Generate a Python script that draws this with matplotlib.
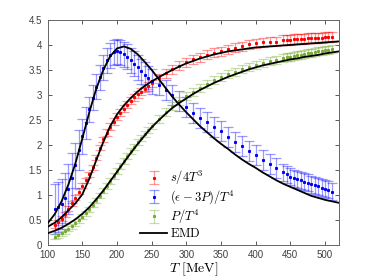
import matplotlib
matplotlib.use("Agg")
import matplotlib.pyplot as plt
from matplotlib.colors import to_rgba

# lattice temperatures [MeV]
T_lat = ([110, 115, 120, 125, 130, 135, 140, 145, 150, 155, 160, 165, 170, 175, 180,
          185, 190, 195, 200, 205, 210, 215, 220, 225, 230, 235, 240, 245, 250]
         + [260, 270, 280, 290, 300, 310, 320, 330, 340, 350, 360, 370, 380, 390,
            400, 410, 420, 430]
         + [440, 445, 450, 455, 460, 465, 470, 475, 480, 485, 490, 495, 500, 505, 510])

s_lat = [0.40, 0.46, 0.53, 0.62, 0.73, 0.84, 0.95, 1.07, 1.19, 1.30, 1.42, 1.56, 1.75, 1.95, 2.12,
         2.25, 2.37, 2.47, 2.57, 2.65, 2.73, 2.81, 2.89, 2.96, 3.02, 3.07, 3.13, 3.19, 3.24,
         3.34, 3.44, 3.52, 3.59, 3.66, 3.72, 3.76, 3.81, 3.85, 3.88, 3.92, 3.95, 3.98, 4.02,
         4.04, 4.06, 4.07, 4.07,
         4.10, 4.11, 4.11, 4.12, 4.12, 4.13, 4.13, 4.14, 4.14, 4.15, 4.15, 4.15, 4.16, 4.16, 4.16]
s_err = ([0.05] * 15 + [0.07] * 14 + [0.09] * 18 + [0.1] * 15)

I_lat = [0.73, 0.77, 0.83, 0.95, 1.12, 1.35, 1.60, 1.90, 2.18, 2.45, 2.72, 2.95, 3.17, 3.36, 3.55,
         3.70, 3.80, 3.86, 3.88, 3.86, 3.82, 3.77, 3.70, 3.63, 3.56, 3.48, 3.41, 3.34, 3.28,
         3.20, 3.11, 3.00, 2.88, 2.76, 2.65, 2.55, 2.46, 2.37, 2.29, 2.17, 2.07, 1.98, 1.88,
         1.80, 1.71, 1.63, 1.54,
         1.46, 1.42, 1.37, 1.34, 1.32, 1.30, 1.27, 1.25, 1.22, 1.20, 1.18, 1.15, 1.13, 1.11, 1.07]
I_err = ([0.5] * 6 + [0.45, 0.4, 0.35, 0.32] + [0.25] * 19 + [0.2] * 18 + [0.17] * 15)

p_lat = [0.17, 0.20, 0.24, 0.28, 0.33, 0.38, 0.44, 0.50, 0.57, 0.64, 0.72, 0.81, 0.90, 0.99, 1.09,
         1.19, 1.29, 1.39, 1.49, 1.59, 1.69, 1.79, 1.88, 1.97, 2.06, 2.15, 2.23, 2.31, 2.39,
         2.53, 2.66, 2.78, 2.88, 2.98, 3.07, 3.15, 3.23, 3.30, 3.36, 3.42, 3.47, 3.52, 3.57,
         3.61, 3.65, 3.68, 3.71,
         3.74, 3.76, 3.77, 3.79, 3.80, 3.81, 3.83, 3.84, 3.85, 3.87, 3.88, 3.89, 3.90, 3.91, 3.92]
p_err = ([0.05] * 15 + [0.06] * 14 + [0.08] * 33)

# EMD model curves
T_emd = [100, 110, 120, 130, 140, 150, 160, 170, 180, 190, 200, 210, 220, 230, 240, 250,
         260, 270, 280, 290, 300, 310, 320, 330, 340, 350, 360, 370, 380, 390, 400, 410,
         420, 430, 440, 450, 460, 470, 480, 490, 500, 510, 520]
s_emd = [0.37, 0.45, 0.56, 0.70, 0.84, 1.02, 1.33, 1.70, 2.06, 2.38, 2.62, 2.80, 2.95, 3.08,
         3.19, 3.28, 3.36, 3.44, 3.51, 3.58, 3.64, 3.69, 3.74, 3.78, 3.82, 3.85, 3.88, 3.90,
         3.92, 3.94, 3.96, 3.97, 3.98, 3.99, 4.00, 4.01, 4.02, 4.03, 4.04, 4.05, 4.06, 4.07, 4.08]
I_emd = [0.44, 0.62, 0.88, 1.22, 1.64, 2.14, 2.66, 3.13, 3.50, 3.78, 3.94, 3.98, 3.93, 3.82,
         3.67, 3.51, 3.33, 3.15, 2.97, 2.81, 2.66, 2.52, 2.38, 2.26, 2.14, 2.03, 1.93, 1.82,
         1.72, 1.63, 1.55, 1.46, 1.38, 1.30, 1.23, 1.17, 1.11, 1.05, 0.99, 0.95, 0.91, 0.88, 0.85]
p_emd = [0.24, 0.29, 0.35, 0.43, 0.52, 0.63, 0.76, 0.92, 1.09, 1.28, 1.47, 1.66, 1.85, 2.03,
         2.20, 2.36, 2.50, 2.63, 2.75, 2.85, 2.94, 3.03, 3.11, 3.18, 3.25, 3.31, 3.37, 3.42,
         3.47, 3.52, 3.56, 3.60, 3.63, 3.66, 3.69, 3.72, 3.74, 3.77, 3.79, 3.81, 3.84, 3.86, 3.88]

xticks = [100, 150, 200, 250, 300, 350, 400, 450, 500]
yticks = [0, 0.5, 1, 1.5, 2, 2.5, 3, 3.5, 4, 4.5]
ytick_labels = ["0", "0.5", "1", "1.5", "2", "2.5", "3", "3.5", "4", "4.5"]

plt.rcParams["mathtext.fontset"] = "cm"
plt.rcParams["font.family"] = ["Liberation Sans", "DejaVu Sans"]

fig = plt.figure(figsize=(3.74, 2.80), dpi=100)
ax = fig.add_axes([0.1275, 0.124, 0.7785, 0.803])


def lattice(ax, y, err, c, label):
    return ax.errorbar(T_lat, y, yerr=err, fmt="s", ms=1.2, color=c, mec=c, mfc=c,
                       ecolor=to_rgba(c, 0.4), elinewidth=0.9, capsize=3.5,
                       capthick=0.9, label=label, zorder=2)


h1 = lattice(ax, s_lat, s_err, "#FF0000", r"$s/4T^3$")
h2 = lattice(ax, I_lat, I_err, "#0000FF", r"$(\epsilon-3P)/T^4$")
h3 = lattice(ax, p_lat, p_err, "#77AC30", r"$P/T^4$")
l1, = ax.plot(T_emd, s_emd, color="k", lw=1.3, zorder=3, label=r"$\mathrm{EMD}$")
ax.plot(T_emd, I_emd, color="k", lw=1.3, zorder=3)
ax.plot(T_emd, p_emd, color="k", lw=1.3, zorder=3)

ax.set_xlim(100, 520)
ax.set_ylim(0, 4.5)
ax.set_xticks(xticks)
ax.set_yticks(yticks)
ax.set_yticklabels(ytick_labels)
ax.tick_params(direction="in", length=3, width=0.6, labelsize=7, colors="0.25",
               top=True, right=True)
ax.tick_params(axis="x", pad=3.5)
ax.tick_params(axis="y", pad=4)
for sp in ax.spines.values():
    sp.set_color("0.4")
    sp.set_linewidth(0.7)

ax.set_xlabel(r"$T\ \mathrm{[MeV]}$", fontsize=10, labelpad=0)

ax.legend(handles=[h1, h2, h3, l1], loc="upper left", bbox_to_anchor=(0.317, 0.34),
          frameon=False, fontsize=9, borderpad=0, borderaxespad=0,
          handlelength=2.2, handletextpad=0.2, labelspacing=0.12)

fig.savefig("out.png", dpi=100)
